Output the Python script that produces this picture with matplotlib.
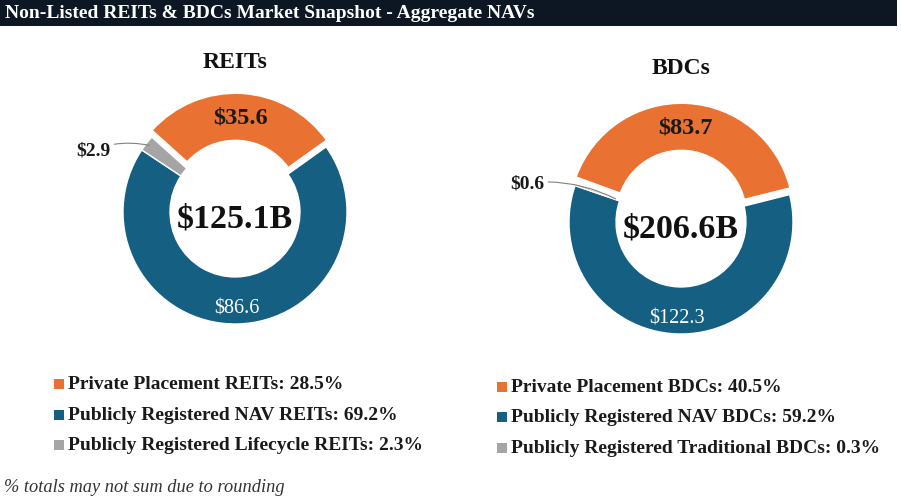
import matplotlib
matplotlib.use("Agg")
import matplotlib.pyplot as plt
import numpy as np

W, H = 901, 502
DPI = 100

title = "Non-Listed REITs & BDCs Market Snapshot - Aggregate NAVs"
footnote = "% totals may not sum due to rounding"

reit_name = "REITs"
reit_values = [35.6, 86.6, 2.9]
reit_total = "$125.1B"
reit_legend = ["Private Placement REITs: 28.5%",
               "Publicly Registered NAV REITs: 69.2%",
               "Publicly Registered Lifecycle REITs: 2.3%"]

bdc_name = "BDCs"
bdc_values = [83.7, 122.3, 0.6]
bdc_total = "$206.6B"
bdc_legend = ["Private Placement BDCs: 40.5%",
              "Publicly Registered NAV BDCs: 59.2%",
              "Publicly Registered Traditional BDCs: 0.3%"]

colors = ["#E97132", "#156082", "#A5A5A5"]
SERIF = ["Liberation Serif", "DejaVu Serif"]

fig = plt.figure(figsize=(W / DPI, H / DPI), dpi=DPI)
fig.patch.set_facecolor("white")

# overlay axes in pixel coords
bg = fig.add_axes([0, 0, 1, 1])
bg.set_xlim(0, W)
bg.set_ylim(H, 0)
bg.axis("off")

# title bar
bg.add_patch(plt.Rectangle((0, 0), 897, 26.5, facecolor="#0D1723", edgecolor="none"))
bg.text(5, 13.5, title, color="white", fontsize=14, fontweight="bold",
        family=SERIF, va="center", ha="left")


def donut(cx, cy, rpx, values, startangle, total, name, name_y, legend, lx, ly, 
          small_xy, small_r):
    half = 1.4 * rpx
    ax = fig.add_axes([(cx - half) / W, 1 - (cy + half) / H, 2 * half / W, 2 * half / H])
    ax.axis("off")
    width = 0.42
    explode = [0.06, 0, 0]
    wedges, _ = ax.pie(values, colors=colors, startangle=startangle, counterclock=False,
                       explode=explode, radius=1.0,
                       wedgeprops=dict(width=width, edgecolor="white", linewidth=1.0))
    ax.set_xlim(-1.4, 1.4)
    ax.set_ylim(-1.4, 1.4)
    ax.set_aspect("equal")
    # labels
    for i, (w, v) in enumerate(zip(wedges, values)):
        mid = np.deg2rad((w.theta1 + w.theta2) / 2)
        if i == 0:
            r = 1 - width / 2 + explode[0]
            ax.text(r * np.cos(mid), r * np.sin(mid), f"${v:.1f}", ha="center", va="center",
                    fontsize=17.5, fontweight="bold", family=SERIF, color="#1a1a1a")
        elif i == 1:
            r = 0.86
            ax.text(r * np.cos(mid), r * np.sin(mid), f"${v:.1f}", ha="center", va="center",
                    fontsize=14.5, family=SERIF, color="white")
        else:
            ax.annotate(f"${v:.1f}", xy=(small_r * np.cos(mid), small_r * np.sin(mid)),
                        xytext=small_xy, textcoords=bg.transData,
                        ha="center", va="center",
                        fontsize=14, fontweight="bold", family=SERIF, color="#1a1a1a",
                        arrowprops=dict(arrowstyle="-", color="#808080", lw=0.8,
                                        shrinkA=1, shrinkB=0,
                                        connectionstyle="arc3,rad=-0.15"))
    ax.text(0, -0.05, total, ha="center", va="center", fontsize=24.5, fontweight="bold",
            family=SERIF, color="#111111")
    # subtitle
    bg.text(cx, name_y, name, ha="center", va="center", fontsize=17, fontweight="bold",
            family=SERIF, color="#111111")
    # legend
    for j, lab in enumerate(legend):
        y = ly[j]
        bg.add_patch(plt.Rectangle((lx, y - 5), 10, 10, facecolor=colors[j], edgecolor="none"))
        bg.text(lx + 14, y, lab, ha="left", va="center", fontsize=14, fontweight="bold",
                family=SERIF, color="#1a1a1a")


donut(235, 213, 112, reit_values, 138, reit_total, reit_name, 62, reit_legend,
      54, [385, 415.5, 446], (93, 151), 0.97)
donut(681, 223, 112, bdc_values, 160, bdc_total, bdc_name, 68, bdc_legend,
      497, [387.5, 418, 448.5], (527, 184), 0.62)

bg.text(4, 488, footnote, ha="left", va="center", fontsize=13.2, style="italic",
        family=SERIF, color="#333333")

fig.savefig("out.png", dpi=DPI)
